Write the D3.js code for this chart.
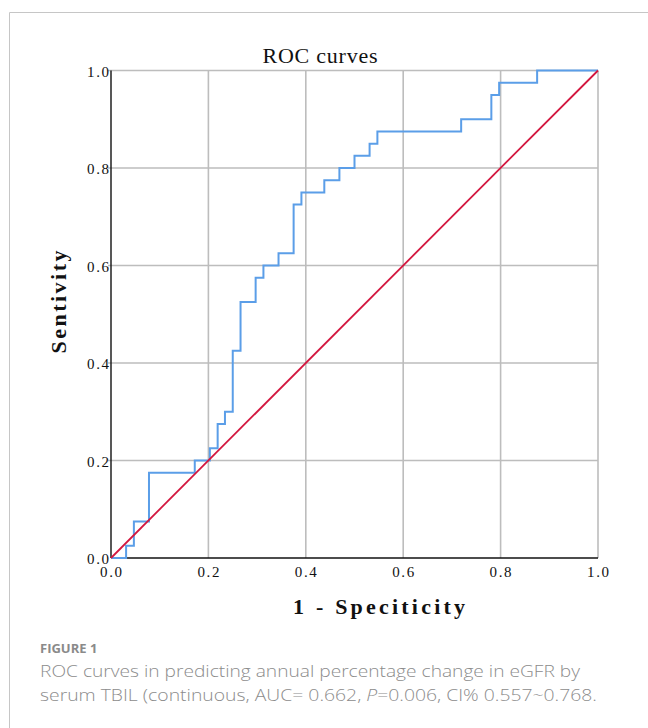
<!DOCTYPE html>
<html>
<head>
<meta charset="utf-8">
<script src="https://cdn.jsdelivr.net/npm/d3@7"></script>
<style>
  html, body { margin: 0; padding: 0; background: #fff; }
  svg { display: block; }
</style>
</head>
<body>
<svg id="chart" width="648" height="728"></svg>
<script>
// ROC data (step corners, horizontal then vertical)
var fpr = [0, 0.031, 0.047, 0.078, 0.172, 0.203, 0.219, 0.234, 0.25, 0.266, 0.297, 0.313,
           0.344, 0.375, 0.391, 0.438, 0.469, 0.5, 0.531, 0.547, 0.719, 0.781, 0.797, 0.875, 1];
var tpr = [0, 0.025, 0.075, 0.175, 0.2, 0.225, 0.275, 0.3, 0.425, 0.525, 0.575, 0.6,
           0.625, 0.725, 0.75, 0.775, 0.8, 0.825, 0.85, 0.875, 0.9, 0.95, 0.975, 1, 1];
var refLine = [0, 1];
var tickValues = [0, 0.2, 0.4, 0.6, 0.8, 1.0];
var tickLabels = ['0.0', '0.2', '0.4', '0.6', '0.8', '1.0'];

var titleText = 'ROC curves';
var xLabelText = '1 - Speciticity';
var yLabelText = 'Sentivity';
var figLabel = 'FIGURE 1';
var captionLine1 = 'ROC curves in predicting annual percentage change in eGFR by';

const svg = d3.select('#chart');
const serif = '"Liberation Serif", "DejaVu Serif", serif';
const sans = '"Open Sans", "Noto Sans", sans-serif';

// frame lines of the figure box
svg.append('line').attr('x1', 9.5).attr('x2', 648).attr('y1', 12.5).attr('y2', 12.5)
  .attr('stroke', '#c6c6c6').attr('stroke-width', 1);
svg.append('line').attr('x1', 9.5).attr('x2', 9.5).attr('y1', 12.5).attr('y2', 728)
  .attr('stroke', '#c6c6c6').attr('stroke-width', 1);

const x = d3.scaleLinear().domain([0, 1]).range([111, 598]);
const y = d3.scaleLinear().domain([0, 1]).range([558, 70.5]);

// grid
const grid = svg.append('g');
grid.selectAll('.vg')
  .data(tickValues.slice(1))
  .enter().append('line')
  .attr('x1', d => x(d)).attr('x2', d => x(d))
  .attr('y1', y(0)).attr('y2', y(1))
  .attr('stroke', '#bdbdbd').attr('stroke-width', 1.6);
grid.selectAll('.hg')
  .data(tickValues.slice(1))
  .enter().append('line')
  .attr('x1', x(0) - 3).attr('x2', x(1))
  .attr('y1', d => y(d)).attr('y2', d => y(d))
  .attr('stroke', '#bdbdbd').attr('stroke-width', 1.6);

// axes lines
svg.append('line').attr('x1', x(0)).attr('x2', x(0)).attr('y1', y(1)).attr('y2', y(0))
  .attr('stroke', '#111').attr('stroke-width', 1.4);
svg.append('line').attr('x1', x(0)).attr('x2', x(1)).attr('y1', y(0)).attr('y2', y(0))
  .attr('stroke', '#111').attr('stroke-width', 1.4);

// tick labels
svg.selectAll('.xt')
  .data(tickValues)
  .enter().append('text')
  .attr('x', d => x(d)).attr('y', y(0) + 19)
  .attr('text-anchor', 'middle')
  .attr('font-family', serif).attr('font-size', 15).attr('fill', '#111')
  .attr('textLength', 22).attr('lengthAdjust', 'spacing')
  .text((d, i) => tickLabels[i]);
svg.selectAll('.yt')
  .data(tickValues)
  .enter().append('text')
  .attr('x', x(0) - 24).attr('y', d => y(d) + 6)
  .attr('font-family', serif).attr('font-size', 15).attr('fill', '#111')
  .attr('textLength', 22).attr('lengthAdjust', 'spacing')
  .text((d, i) => tickLabels[i]);

// lines
const line = d3.line()
  .x(d => x(d[0]))
  .y(d => y(d[1]))
  .curve(d3.curveStepAfter);

svg.append('path')
  .datum(fpr.map((d, i) => [d, tpr[i]]))
  .attr('d', line)
  .attr('fill', 'none')
  .attr('stroke', '#5b9ee8')
  .attr('stroke-width', 2);

svg.append('path')
  .datum(refLine.map(d => [d, d]))
  .attr('d', d3.line().x(d => x(d[0])).y(d => y(d[1])))
  .attr('fill', 'none')
  .attr('stroke', '#d3173f')
  .attr('stroke-width', 1.8);

// titles
svg.append('text')
  .attr('x', 320).attr('y', 63)
  .attr('text-anchor', 'middle')
  .attr('font-family', serif).attr('font-size', 22).attr('fill', '#111')
  .attr('textLength', 115).attr('lengthAdjust', 'spacing')
  .text(titleText);

svg.append('text')
  .attr('x', 379).attr('y', 614)
  .attr('text-anchor', 'middle')
  .attr('font-family', serif).attr('font-size', 22).attr('font-weight', 'bold').attr('fill', '#111')
  .attr('textLength', 172).attr('lengthAdjust', 'spacing')
  .text(xLabelText);

svg.append('text')
  .attr('transform', 'translate(66,302) rotate(-90)')
  .attr('text-anchor', 'middle')
  .attr('font-family', serif).attr('font-size', 22).attr('font-weight', 'bold').attr('fill', '#111')
  .attr('textLength', 103).attr('lengthAdjust', 'spacing')
  .text(yLabelText);

// caption
svg.append('text')
  .attr('x', 40).attr('y', 653)
  .attr('font-family', sans).attr('font-size', 13).attr('font-weight', 'bold')
  .attr('fill', '#8a8a8a')
  .text(figLabel);

svg.append('text')
  .attr('x', 40).attr('y', 677)
  .attr('font-family', sans).attr('font-size', 16.5).attr('font-weight', 300)
  .attr('fill', '#8c8c8c')
  .attr('textLength', 540).attr('lengthAdjust', 'spacingAndGlyphs')
  .text(captionLine1);

const cap2 = svg.append('text')
  .attr('x', 40).attr('y', 701)
  .attr('font-family', sans).attr('font-size', 16.5).attr('font-weight', 300)
  .attr('fill', '#8c8c8c')
  .attr('textLength', 557).attr('lengthAdjust', 'spacingAndGlyphs');
cap2.append('tspan').text('serum TBIL (continuous, AUC= 0.662, ');
cap2.append('tspan').attr('font-style', 'italic').text('P');
cap2.append('tspan').text('=0.006, CI% 0.557~0.768.');
</script>
</body>
</html>
